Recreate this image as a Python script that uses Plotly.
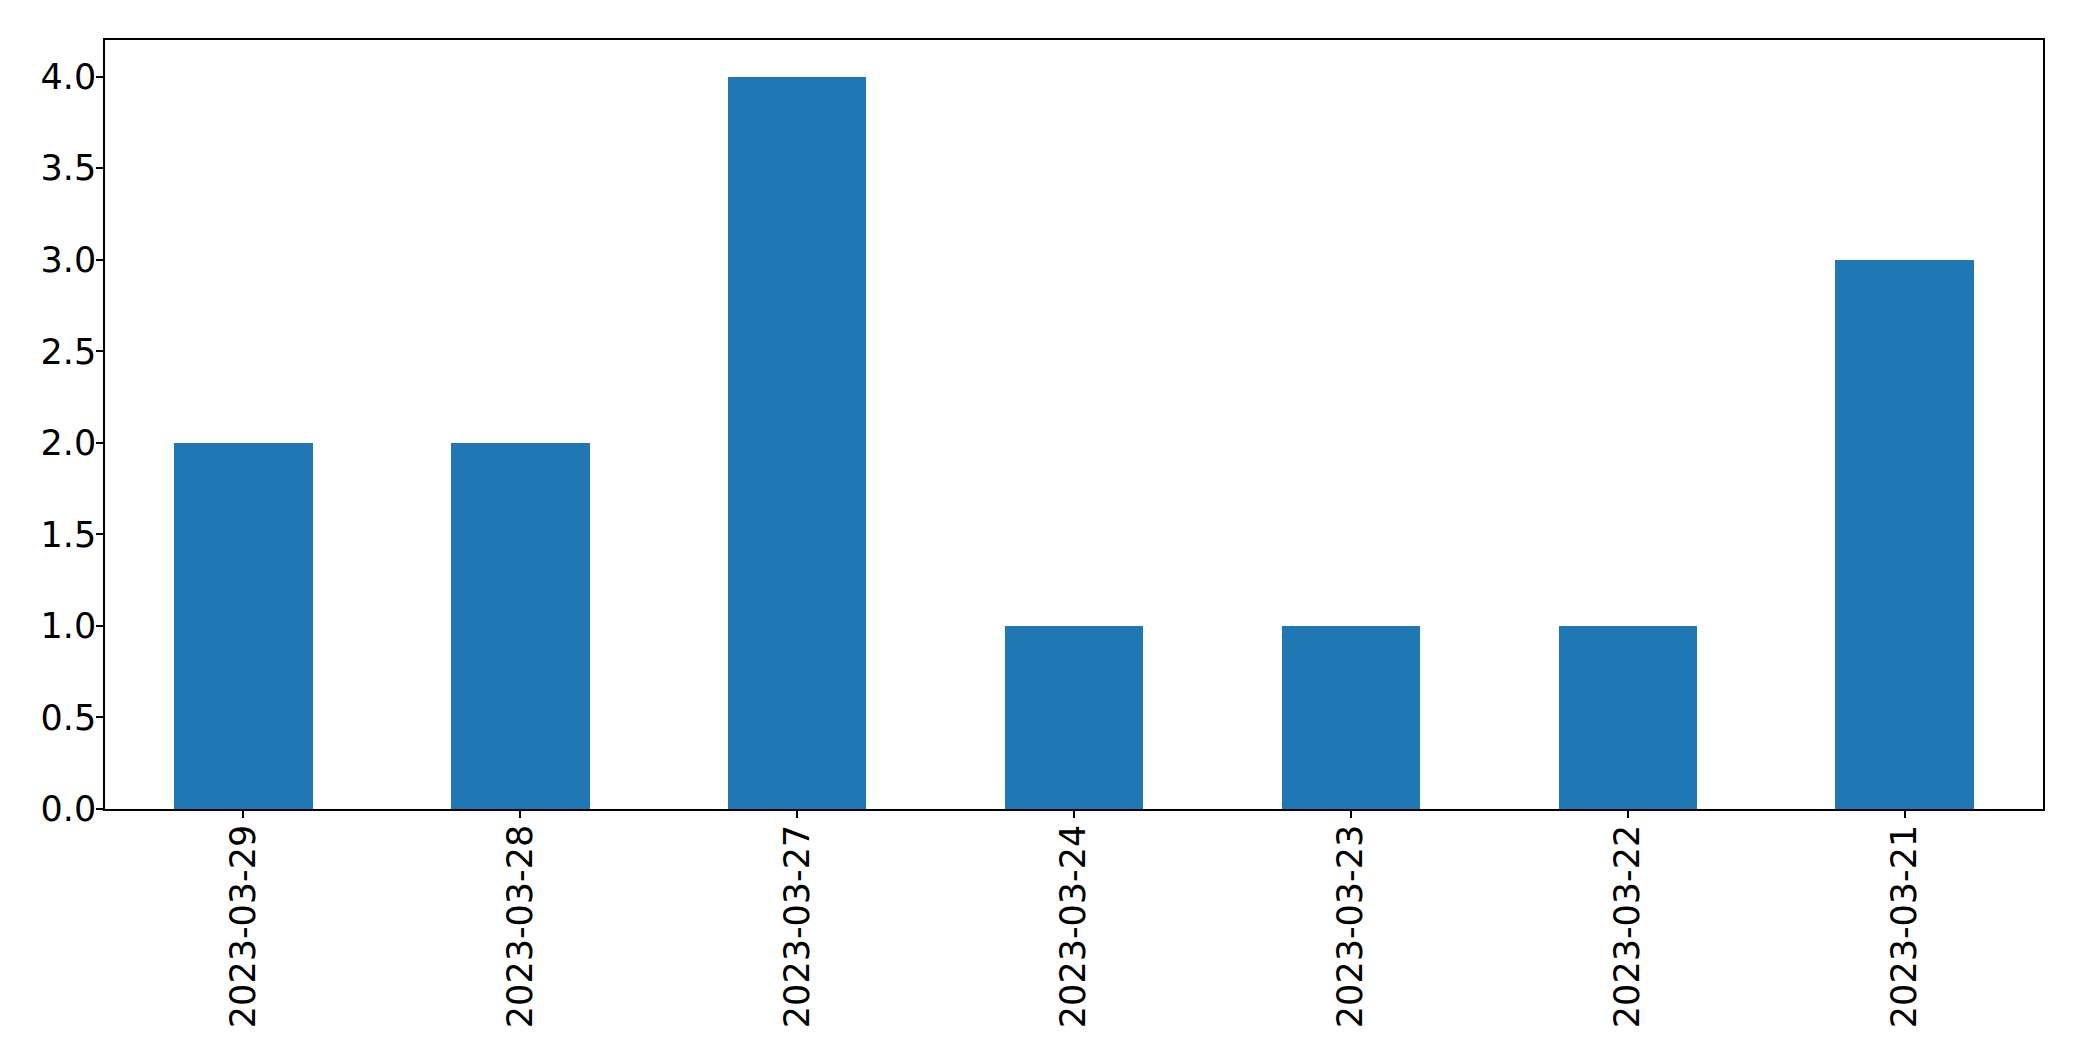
import plotly.graph_objects as go

dates = ["2023-03-29", "2023-03-28", "2023-03-27", "2023-03-24", "2023-03-23", "2023-03-22", "2023-03-21"]
counts = [2, 2, 4, 1, 1, 1, 3]
y_ticks = [0.0, 0.5, 1.0, 1.5, 2.0, 2.5, 3.0, 3.5, 4.0]
y_tick_labels = ["0.0", "0.5", "1.0", "1.5", "2.0", "2.5", "3.0", "3.5", "4.0"]

fig = go.Figure(go.Bar(x=dates, y=counts, width=0.5, marker=dict(color="#1f77b4", line=dict(width=0))))

fig.update_layout(
    width=2082, height=1061,
    margin=dict(l=105, r=39, t=40, b=252),
    paper_bgcolor="white", plot_bgcolor="white",
    font=dict(family="DejaVu Sans", size=35, color="black"),
    showlegend=False,
    bargap=0,
)
fig.update_xaxes(
    type="category", range=[-0.5, 6.5],
    showline=True, linecolor="black", linewidth=1.5, mirror=True,
    ticks="outside", ticklen=7, tickwidth=1.5, tickcolor="black",
    tickangle=-90, showgrid=False, zeroline=False,
    ticklabelstandoff=-7,
)
fig.update_yaxes(
    range=[0, 4.2], tickvals=y_ticks, ticktext=y_tick_labels,
    showline=True, linecolor="black", linewidth=1.5, mirror=True,
    ticks="outside", ticklen=7, tickwidth=1.5, tickcolor="black",
    showgrid=False, zeroline=False,
    ticklabelstandoff=-7,
)

fig.write_html(
    "out.html",
    config={"displayModeBar": False},
    post_script="document.body.style.margin='0';document.body.style.overflow='hidden';",
)
